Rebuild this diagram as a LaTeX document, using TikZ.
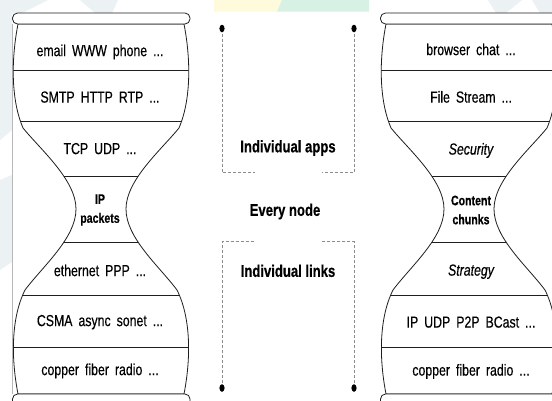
\documentclass[tikz,border=0pt]{standalone}
\usepackage{fontspec}
\setmainfont{Liberation Sans}[
  FakeStretch=0.77,
  UprightFeatures={FakeBold=0.35},
  ItalicFeatures={FakeBold=0.35},
  BoldFeatures={FakeBold=0.5}]

\definecolor{ink}{HTML}{1E1E1E}
\definecolor{dashgray}{HTML}{8C8C8C}
\definecolor{edgegray}{HTML}{B8B8B8}
\definecolor{barYellow}{HTML}{FDFBDC}
\definecolor{barGreen}{HTML}{D8F1E5}
\definecolor{mist}{HTML}{ECF1F4}

\newcommand\widespaces{\spaceskip=6pt plus 1pt\relax}

\tikzset{
  outline/.style={draw=ink, line width=0.8pt},
  divider/.style={draw=ink, line width=0.6pt},
  capbar/.style={draw=ink, line width=0.8pt, fill=white, rounded corners=5pt},
  layer/.style={inner sep=0pt, text height=11.6pt, text depth=3.4pt,
    font=\fontsize{16}{19}\selectfont, execute at begin node=\widespaces},
  slanted/.style={layer, font=\itshape\fontsize{16}{19}\selectfont},
  waist/.style={inner sep=0pt, align=center,
    font=\bfseries\fontsize{13.75}{19}\selectfont},
  scopelabel/.style={inner sep=0pt, text height=12.3pt, text depth=3.6pt,
    font=\bfseries\fontsize{17}{20}\selectfont},
  bracket/.style={draw=dashgray, line width=0.7pt, dash pattern=on 3pt off 2pt},
  pin/.style={fill=black, draw=none},
}

% outline of an hourglass centred at x = #1
\newcommand\glasspath[1]{%
  (#1-83,24) .. controls (#1-90,60) and (#1-90,100) .. (#1-78,128)
  .. controls (#1-60,150) and (#1-25,180) .. (#1-25,209)
  .. controls (#1-25,238) and (#1-58,266) .. (#1-76,290)
  .. controls (#1-90,318) and (#1-90,358) .. (#1-83,394)
  -- (#1+83,394)
  .. controls (#1+90,358) and (#1+90,318) .. (#1+76,290)
  .. controls (#1+58,266) and (#1+25,238) .. (#1+25,209)
  .. controls (#1+25,180) and (#1+60,150) .. (#1+78,128)
  .. controls (#1+90,100) and (#1+90,60) .. (#1+83,24) -- cycle}

% hourglass body with its layer dividers and the two end caps
\newcommand\hglass[1]{%
  \begin{scope}
    \clip \glasspath{#1};
    \foreach \yy in {70.7,121,176,242.7,295,347.7}
      \draw[divider] (#1-100,\yy) -- (#1+100,\yy);
  \end{scope}
  \draw[outline] \glasspath{#1};
  \draw[capbar] (#1-88.5,13) rectangle (#1+89,24);
  \draw[capbar] (#1-88.5,394) rectangle (#1+89,406);
}

\begin{document}
\begin{tikzpicture}[x=1pt,y=-1pt]
  \useasboundingbox (0,0) rectangle (552,400);
  \fill[white] (0,0) rectangle (552,400);

  % faint background marks
  \fill[mist] (0,0) -- (48,0) -- (22,13) -- (0,13) -- cycle;
  \fill[mist] (80,0) -- (118,0) -- (112,13) -- (95,13) -- cycle;
  \fill[mist] (0,13) -- (12,13) -- (12,130) -- (0,140) -- cycle;
  \fill[mist] (0,180) -- (12,175) -- (12,262) -- (0,270) -- cycle;
  \fill[mist] (488,0) -- (522,0) -- (506,13) -- (496,13) -- cycle;
  \fill[mist] (532,0) -- (552,0) -- (552,13) -- (540,13) -- cycle;

  % coloured strip along the top edge
  \fill[barYellow] (214,0) -- (282,0) -- (277,11.7) -- (214,11.7) -- cycle;
  \fill[barGreen] (282,0) -- (369,0) -- (369,11.7) -- (277,11.7) -- cycle;

  % thin frame edge on the left
  \draw[edgegray, line width=0.5pt] (12.5,24) -- (12.5,394);

  % ---------------- left hourglass: the Internet stack
  \hglass{101}
  \node[layer] (lapp)  at (100,52)    {email WWW phone ...};
  \node[layer] (lproto) at (100,98.5) {SMTP HTTP RTP ...};
  \node[layer] (ltrans) at (100,150)  {TCP UDP ...};
  \node[waist] (lwaist) at (100,210)  {IP\\packets};
  \node[layer] (llink) at (100,272)   {ethernet PPP ...};
  \node[layer] (lmac)  at (100,322)   {CSMA async sonet ...};
  \node[layer] (lphy)  at (100,371)   {copper fiber radio ...};

  % ---------------- right hourglass: the content-centric stack
  \hglass{469}
  \node[layer] (rapp)  at (471,51)    {browser chat ...};
  \node[layer] (rproto) at (471,98.5) {File Stream ...};
  \node[slanted] (rsec) at (471,150.5) {Security};
  \node[waist] (rwaist) at (471,210)  {Content\\chunks};
  \node[slanted] (rstrat) at (471,271.5) {Strategy};
  \node[layer] (rnet)  at (471,323.5) {IP UDP P2P BCast ...};
  \node[layer] (rphy)  at (471,371.5) {copper fiber radio ...};

  % ---------------- scope brackets in the middle
  \coordinate (ta) at (222,28.5);
  \coordinate (tb) at (354,28.5);
  \coordinate (ba) at (222,388);
  \coordinate (bb) at (354,388);
  \coordinate (tal) at (255,172.3);
  \coordinate (tbr) at (322,172.3);
  \coordinate (bal) at (255,241.7);
  \coordinate (bbr) at (322,241.7);

  \draw[bracket] (ta) |- (tal);
  \draw[bracket] (tb) |- (tbr);
  \draw[bracket] (ba) |- (bal);
  \draw[bracket] (bb) |- (bbr);
  \foreach \p in {ta,tb,ba,bb}
    \fill[pin] (\p) ellipse [x radius=2.6pt, y radius=3.8pt];

  \node[scopelabel] (apps)  at (288,148)   {Individual apps};
  \node[scopelabel] (every) at (285,211.5) {Every node};
  \node[scopelabel] (links) at (288,272.5) {Individual links};
\end{tikzpicture}
\end{document}
